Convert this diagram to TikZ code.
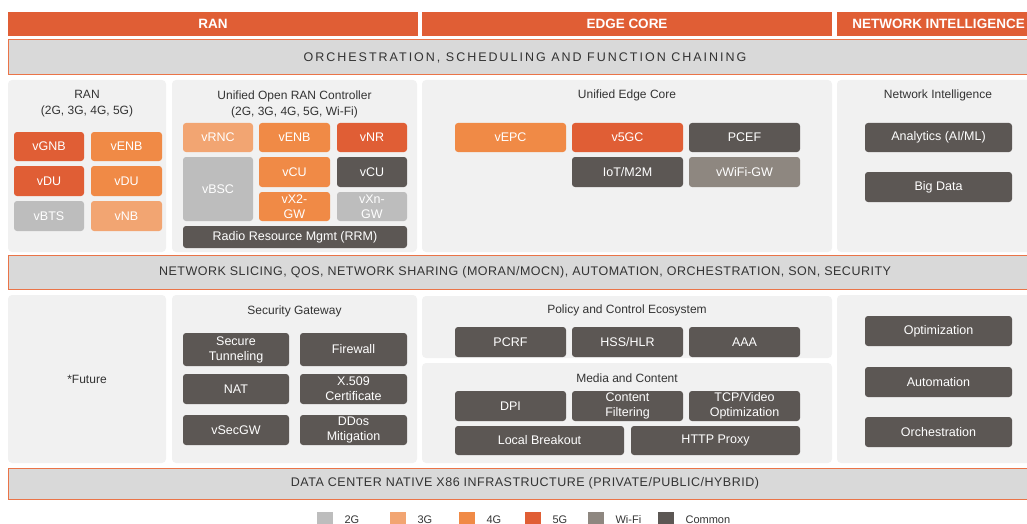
\documentclass[tikz,border=0pt]{standalone}
\usepackage{fontspec}
\setmainfont{Liberation Sans}
\usepackage{tikz}

\definecolor{gen2}{HTML}{BDBDBD}
\definecolor{gen3}{HTML}{F2A572}
\definecolor{gen4}{HTML}{F08A46}
\definecolor{gen5}{HTML}{E05E35}
\definecolor{wifi}{HTML}{8E8780}
\definecolor{common}{HTML}{5C5754}
\definecolor{panelgray}{HTML}{F1F1F1}
\definecolor{bandgray}{HTML}{D9D9D9}
\definecolor{bandline}{HTML}{EA7448}
\definecolor{textgray}{HTML}{333333}

\tikzset{
  % a box given by its corners x1/y1/x2/y2
  span/.style args = {#1/#2/#3/#4}{minimum width=#3-#1, minimum height=#4-#2,
                    at={({(#1+#3)/2},{(#2+#4)/2})}},
  hdr/.style     = {fill=gen5, inner sep=0, text=white,
                    font=\bfseries\fontsize{13.5}{15}\selectfont},
  band/.style    = {fill=bandgray, draw=bandline, line width=1pt, inner sep=0,
                    text=textgray, font=\fontsize{12.5}{14}\selectfont},
  panel/.style   = {fill=panelgray, rounded corners=4pt, inner sep=0},
  title/.style   = {text=textgray, align=center, inner sep=0,
                    font=\fontsize{12}{16}\selectfont},
  fn/.style      = {fill=#1, rounded corners=3pt, inner sep=0, text=white,
                    align=center, font=\fontsize{12.5}{15}\selectfont},
  fn/.default    = common,
  key/.style     = {fill=#1, inner sep=0, minimum width=16, minimum height=15},
  keytext/.style = {text=textgray, anchor=west, inner sep=0,
                    font=\fontsize{11}{12}\selectfont},
}

\begin{document}
\begin{tikzpicture}[x=1pt,y=-1pt]
    \useasboundingbox (0,0) rectangle (1027,524);
    \clip (0,0) rectangle (1027,524);

    % column heads
    \node (hran)  [hdr, span=8/12/418/36]    {RAN};
    \node (hedge) [hdr, span=422/12/832/36]  {EDGE CORE};
    \node (hni)   [hdr, span=837/12/1040/36] {NETWORK INTELLIGENCE};

    % bands across all columns
    \node (orch)  [band, span=8/40/1042/75]
      {\addfontfeature{LetterSpace=16}ORCHESTRATION, SCHEDULING AND FUNCTION CHAINING};
    \node (slice) [band, span=8/255/1042/289]
      {\addfontfeature{LetterSpace=4}NETWORK SLICING, QOS, NETWORK SHARING (MORAN/MOCN), AUTOMATION, ORCHESTRATION, SON, SECURITY};
    \node (dc)    [band, span=8/468/1042/499]
      {\addfontfeature{LetterSpace=4}DATA CENTER NATIVE X86 INFRASTRUCTURE (PRIVATE/PUBLIC/HYBRID)};

    % panels
    \node (pran)  [panel, span=8/80/166/252]    {};
    \node (pctl)  [panel, span=172/80/417/252]  {};
    \node (pedge) [panel, span=422/80/832/252]  {};
    \node (pni)   [panel, span=837/80/1040/252] {};
    \node (pfut)  [panel, span=8/295/166/463]   {};
    \node (psec)  [panel, span=172/295/417/463] {};
    \node (ppol)  [panel, span=422/296/832/358] {};
    \node (pmed)  [panel, span=422/363/832/463] {};
    \node (pni2)  [panel, span=837/295/1040/463] {};

    % panel titles
    \node (tran)  [title] at (87,104)    {RAN\\(2G, 3G, 4G, 5G)};
    \node (tctl)  [title] at (294.5,104) {Unified Open RAN Controller\\(2G, 3G, 4G, 5G, Wi-Fi)};
    \node (tedge) [title] at (627,95)    {Unified Edge Core};
    \node (tni)   [title] at (938,95)    {Network Intelligence};
    \node (tfut)  [title] at (87,379)    {*Future};
    \node (tsec)  [title] at (294.5,311) {Security Gateway};
    \node (tpol)  [title] at (627,310)   {Policy and Control Ecosystem};
    \node (tmed)  [title] at (627,378)   {Media and Content};

    % RAN
    \node (vgnb)  [fn=gen5, span=14/132/84/161]  {vGNB};
    \node (venb)  [fn=gen4, span=91/132/162/161] {vENB};
    \node (vdua)  [fn=gen5, span=14/166/84/196]  {vDU};
    \node (vdub)  [fn=gen4, span=91/166/162/196] {vDU};
    \node (vbts)  [fn=gen2, span=14/201/84/231]  {vBTS};
    \node (vnb)   [fn=gen3, span=91/201/162/231] {vNB};

    % controller
    \node (vrnc)  [fn=gen3, span=183/123/253/152] {vRNC};
    \node (cenb)  [fn=gen4, span=259/123/330/152] {vENB};
    \node (vnr)   [fn=gen5, span=337/123/407/152] {vNR};
    \node (vbsc)  [fn=gen2, span=183/157/253/221] {vBSC};
    \node (vcua)  [fn=gen4, span=259/157/330/187] {vCU};
    \node (vcub)  [fn,      span=337/157/407/187] {vCU};
    \node (vxtwo) [fn=gen4, span=259/192/330/221] {vX2-\\GW};
    \node (vxn)   [fn=gen2, span=337/192/407/221] {vXn-\\GW};
    \node (rrm)   [fn,      span=183/226/407/248] {Radio Resource Mgmt (RRM)};

    % edge core
    \node (vepc)  [fn=gen4, span=455/123/566/152] {vEPC};
    \node (vfgc)  [fn=gen5, span=572/123/683/152] {v5GC};
    \node (pcef)  [fn,      span=689/123/800/152] {PCEF};
    \node (iot)   [fn,      span=572/157/683/187] {IoT/M2M};
    \node (vwifi) [fn=wifi, span=689/157/800/187] {vWiFi-GW};

    % network intelligence
    \node (anl)   [fn, span=865/123/1012/152] {Analytics (AI/ML)};
    \node (bigd)  [fn, span=865/172/1012/202] {Big Data};

    % security gateway
    \node (stun)  [fn, span=183/333/289/366] {Secure\\Tunneling};
    \node (fwl)   [fn, span=300/333/407/366] {Firewall};
    \node (nat)   [fn, span=183/374/289/404] {NAT};
    \node (xcert) [fn, span=300/374/407/404] {X.509\\Certificate};
    \node (vsec)  [fn, span=183/415/289/445] {vSecGW};
    \node (ddos)  [fn, span=300/415/407/445] {DDos\\Mitigation};

    % policy and media
    \node (pcrf)  [fn, span=455/327/566/357] {PCRF};
    \node (hss)   [fn, span=572/327/683/357] {HSS/HLR};
    \node (aaa)   [fn, span=689/327/800/357] {AAA};
    \node (dpi)   [fn, span=455/391/566/421] {DPI};
    \node (cflt)  [fn, span=572/391/683/421] {Content\\Filtering};
    \node (tcpv)  [fn, span=689/391/800/421] {TCP/Video\\Optimization};
    \node (lbo)   [fn, span=455/426/624/455] {Local Breakout};
    \node (http)  [fn, span=631/426/800/455] {HTTP Proxy};

    % right column, lower
    \node (optm)  [fn, span=865/316/1012/346] {Optimization};
    \node (auto)  [fn, span=865/367/1012/397] {Automation};
    \node (orc)   [fn, span=865/417/1012/447] {Orchestration};

    % legend
    \foreach \k/\col/\txt/\xs in {ktwo/gen2/2G/317, kthree/gen3/3G/390,
                                  kfour/gen4/4G/459, kfive/gen5/5G/525,
                                  kwifi/wifi/Wi-Fi/588, kcom/common/Common/658}
      {
        \node (\k) [key=\col, anchor=north west] at (\xs,512) {};
        \node (\k t) [keytext] at ([xshift=11pt]\k.east) {\txt};
      }
\end{tikzpicture}
\end{document}
